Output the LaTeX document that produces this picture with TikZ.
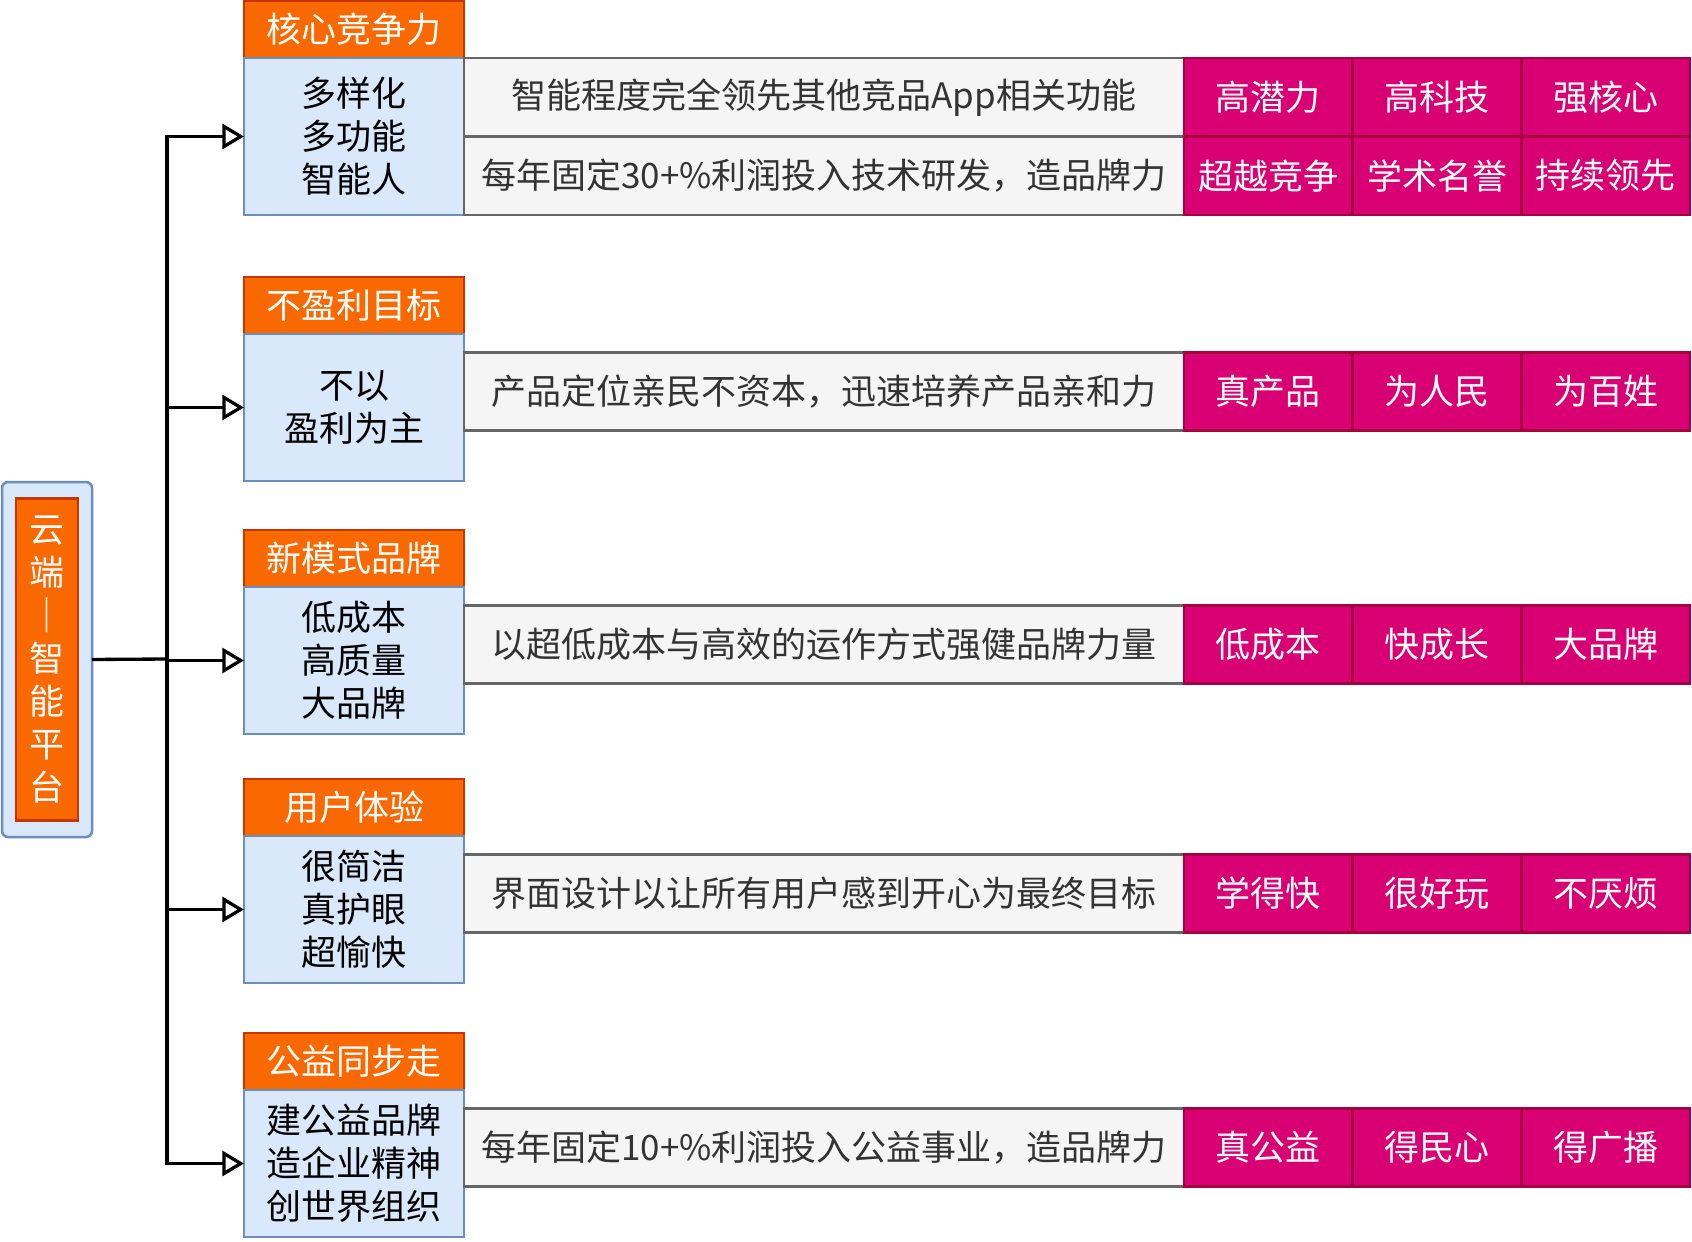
\documentclass[tikz,border=0pt]{standalone}
\usepackage{fontspec}
\setmainfont{Noto Sans CJK SC}
\usetikzlibrary{positioning, arrows.meta}

\definecolor{hdrfill}{HTML}{FA6800}
\definecolor{hdrline}{HTML}{C73500}
\definecolor{bluefill}{HTML}{DAE8FC}
\definecolor{blueline}{HTML}{6C8EBF}
\definecolor{grayfill}{HTML}{F5F5F5}
\definecolor{grayline}{HTML}{666666}
\definecolor{pinkfill}{HTML}{D80073}
\definecolor{pinkline}{HTML}{A50040}

\tikzset{
	box/.style={rectangle, line width=1.5pt, inner sep=0pt, outer sep=0pt, align=center,
		font=\fontsize{21}{25.8}\selectfont},
	header/.style={box, draw=hdrline, fill=hdrfill, text=white, minimum width=132pt, minimum height=34.2pt},
	topic/.style={box, draw=blueline, fill=bluefill, text=black, minimum width=132pt, minimum height=88.2pt},
	note/.style={box, draw=grayline, fill=grayfill, text=black!80, minimum width=432pt, minimum height=46.8pt},
	tag/.style={box, draw=pinkline, fill=pinkfill, text=white, minimum width=101.2pt, minimum height=46.8pt},
	rootbox/.style={box, draw=blueline, fill=bluefill, rounded corners=3.6pt, minimum width=54pt, minimum height=213pt},
	roottitle/.style={header, minimum width=37.2pt, minimum height=193.2pt},
	flow/.style={line width=2pt, -{Triangle[open, length=13pt, width=15pt]}}
}

\begin{document}
\begin{tikzpicture}[x=0.6pt, y=-0.6pt]

	\useasboundingbox (0,0) rectangle (1692,1242);

	% root
	\node[rootbox] (rootout) at (47,659.5) {};
	\node[roottitle] (root) at (rootout.center) {云\\端\\｜\\智\\能\\平\\台};

	% core competence
	\node[header, anchor=north] (h1) at (354,1) {核心竞争力};
	\node[topic, below=0pt of h1, minimum height=94.2pt] (t1) {多样化\\多功能\\智能人};
	\node[note, anchor=north west, minimum height=47.1pt] (n1a) at (t1.north east) {智能程度完全领先其他竞品App相关功能};
	\node[note, below=0pt of n1a, minimum height=47.1pt] (n1b) {每年固定30+\%利润投入技术研发，造品牌力};
	\node[tag, right=0pt of n1a, minimum height=47.1pt] (k1a) {高潜力};
	\node[tag, right=0pt of k1a, minimum height=47.1pt] (k1b) {高科技};
	\node[tag, right=0pt of k1b, minimum height=47.1pt] (k1c) {强核心};
	\node[tag, right=0pt of n1b, minimum height=47.1pt] (k1d) {超越竞争};
	\node[tag, right=0pt of k1d, minimum height=47.1pt] (k1e) {学术名誉};
	\node[tag, right=0pt of k1e, minimum height=47.1pt] (k1f) {持续领先};

	% no profit goal
	\node[header, anchor=north] (h2) at (354,277) {不盈利目标};
	\node[topic, below=0pt of h2] (t2) {不以\\盈利为主};
	\node[note, right=0pt of t2, yshift=9.6pt] (n2) {产品定位亲民不资本，迅速培养产品亲和力};
	\node[tag, right=0pt of n2] (k2a) {真产品};
	\node[tag, right=0pt of k2a] (k2b) {为人民};
	\node[tag, right=0pt of k2b] (k2c) {为百姓};

	% new brand model
	\node[header, anchor=north] (h3) at (354,530) {新模式品牌};
	\node[topic, below=0pt of h3] (t3) {低成本\\高质量\\大品牌};
	\node[note, right=0pt of t3, yshift=9.6pt] (n3) {以超低成本与高效的运作方式强健品牌力量};
	\node[tag, right=0pt of n3] (k3a) {低成本};
	\node[tag, right=0pt of k3a] (k3b) {快成长};
	\node[tag, right=0pt of k3b] (k3c) {大品牌};

	% user experience
	\node[header, anchor=north] (h4) at (354,779) {用户体验};
	\node[topic, below=0pt of h4] (t4) {很简洁\\真护眼\\超愉快};
	\node[note, right=0pt of t4, yshift=9.6pt] (n4) {界面设计以让所有用户感到开心为最终目标};
	\node[tag, right=0pt of n4] (k4a) {学得快};
	\node[tag, right=0pt of k4a] (k4b) {很好玩};
	\node[tag, right=0pt of k4b] (k4c) {不厌烦};

	% charity
	\node[header, anchor=north] (h5) at (354,1033) {公益同步走};
	\node[topic, below=0pt of h5] (t5) {建公益品牌\\造企业精神\\创世界组织};
	\node[note, right=0pt of t5, yshift=9.6pt] (n5) {每年固定10+\%利润投入公益事业，造品牌力};
	\node[tag, right=0pt of n5] (k5a) {真公益};
	\node[tag, right=0pt of k5a] (k5b) {得民心};
	\node[tag, right=0pt of k5b] (k5c) {得广播};

	% connectors
	\coordinate (fork) at (167,659);
	\draw[line width=2pt] (rootout.east) -- (fork);
	\draw[flow] (fork) |- (t1.west);
	\draw[flow] (fork) |- (t2.west);
	\draw[flow] (fork) |- (t3.west);
	\draw[flow] (fork) |- (t4.west);
	\draw[flow] (fork) |- (t5.west);

\end{tikzpicture}
\end{document}
